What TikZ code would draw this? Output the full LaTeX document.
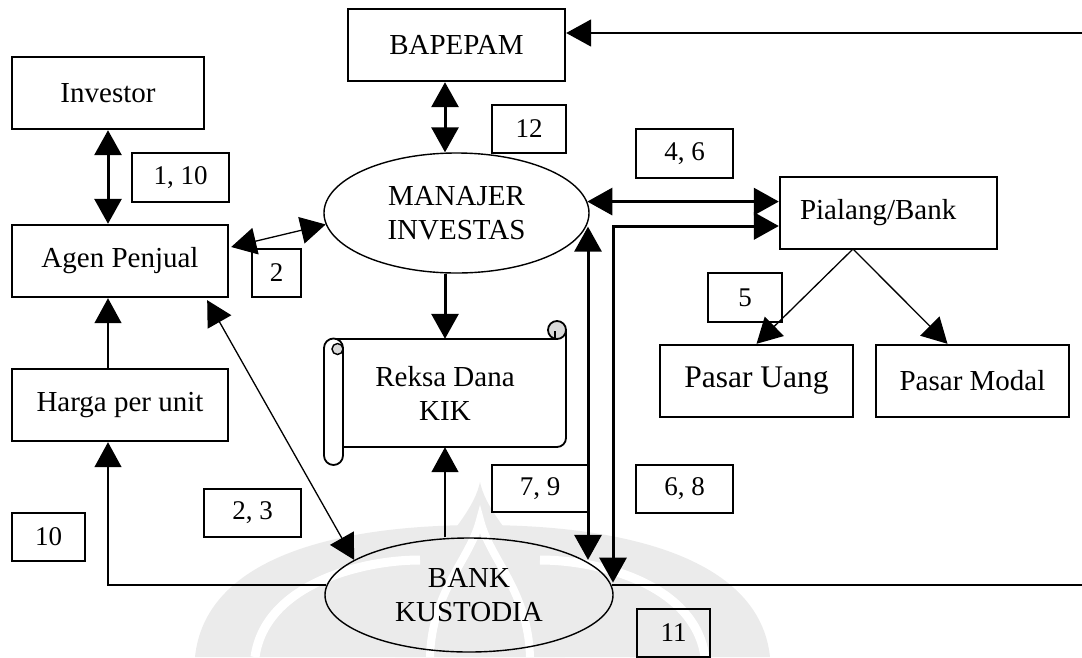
\documentclass[tikz,border=0pt]{standalone}
\usepackage{fontspec}
\setmainfont{Liberation Serif}
\usetikzlibrary{arrows.meta,calc,shapes.geometric}
\begin{document}
\begin{tikzpicture}[x=1pt,y=-1pt,
  box/.style={draw, line width=2.4pt, rectangle, inner sep=0pt, font=\fontsize{29}{34}\selectfont, align=center},
  lbl/.style={draw, line width=2.4pt, rectangle, inner sep=0pt, font=\fontsize{27}{30}\selectfont},
  oval/.style={draw, ellipse, line width=1.4pt, inner sep=0pt, font=\fontsize{29}{34}\selectfont, align=center},
  tip/.style={-{Triangle[length=25pt,width=27pt]}},
  dtip/.style={{Triangle[length=25pt,width=27pt]}-{Triangle[length=25pt,width=27pt]}},
  thk/.style={line width=3pt},
  thn/.style={line width=1.3pt},
  mid/.style={line width=1.8pt},
  scr/.style={line width=1.8pt},
  wm/.style={fill=gray!16}
]
\useasboundingbox (0,0) rectangle (1082,657);
% watermark
\fill[wm] (195,657) .. controls (205,560) and (330,525) .. (480,525) .. controls (630,525) and (760,560) .. (770,657) -- cycle;
\draw[white, line width=9pt] (255,657) .. controls (265,585) and (360,560) .. (420,560);
\draw[white, line width=9pt] (705,657) .. controls (695,585) and (600,560) .. (540,560);
\fill[wm] (395,657) .. controls (400,570) and (470,530) .. (480,482) .. controls (490,530) and (560,570) .. (565,657) -- cycle;
\draw[white, line width=8pt] (430,657) .. controls (432,590) and (470,560) .. (480,520) .. controls (490,560) and (528,590) .. (530,657);

% main nodes
\node[box, minimum width=217pt, minimum height=72pt] (bap) at (456.5,45) {BAPEPAM};
\node[box, minimum width=192pt, minimum height=72pt] (inv) at (108,93) {Investor};
\node[box, minimum width=216pt, minimum height=72pt] (agen) at (120,261) {Agen Penjual};
\node[box, minimum width=216pt, minimum height=72pt] (harga) at (120,405) {Harga per unit};
\node[oval, fill=white, minimum width=265pt, minimum height=120pt] (man) at (456.5,213) {MANAJER\\INVESTAS};
\node[box, minimum width=217pt, minimum height=72pt, text width=177pt, inner xsep=20pt, align=left] (pia) at (888.5,213) {Pialang/Bank};
\node[box, minimum width=193pt, minimum height=72pt, font=\fontsize{31.5}{34}\selectfont] (pu) at (756.5,381) {Pasar Uang};
\node[box, minimum width=193pt, minimum height=72pt] (pm) at (972.5,381) {Pasar Modal};
\node[oval, minimum width=288pt, minimum height=114pt] (kus) at (469,595) {BANK\\KUSTODIA};

% scroll (Reksa Dana KIK)
\draw[scr] (333.5,339) -- (557,339);
\draw[scr] (566,330) -- (566,438) arc[start angle=0, end angle=90, radius=9] -- (343,447);
\filldraw[scr, fill=gray!30] (557,330) circle[radius=9];
\draw[line width=1.4pt] (555,331) -- (555,339);
\filldraw[scr, fill=white] (343,348) -- (343,455.5) arc[start angle=0, end angle=180, radius=9.5] -- (324,348) arc[start angle=180, end angle=360, radius=9.5];
\filldraw[line width=1.4pt, fill=gray!30] (337.5,349) circle[radius=5.5];
\node[inner sep=0pt, minimum width=242pt, minimum height=108pt, font=\fontsize{29}{34}\selectfont, align=center] (reksa) at (445,393) {Reksa Dana\\KIK};

% number labels
\node[lbl, minimum width=97pt, minimum height=49pt] (l110) at (180.5,177.5) {1, 10};
\node[lbl, minimum width=49pt, minimum height=48pt] (l2) at (276.5,273) {2};
\node[lbl, minimum width=74pt, minimum height=48pt] (l12) at (529,129) {12};
\node[lbl, minimum width=97pt, minimum height=49pt] (l46) at (684.5,153.5) {4, 6};
\node[lbl, minimum width=74pt, minimum height=49pt] (l5) at (745,297.5) {5};
\node[lbl, minimum width=96pt, minimum height=47pt] (l79) at (540,488.5) {7, 9};
\node[lbl, minimum width=97pt, minimum height=48pt] (l68) at (684.5,489) {6, 8};
\node[lbl, minimum width=97pt, minimum height=48pt] (l23) at (252.5,513) {2, 3};
\node[lbl, minimum width=73pt, minimum height=48pt] (l10) at (48.5,537) {10};
\node[lbl, minimum width=73pt, minimum height=48pt] (l11) at (673.5,633) {11};

% helper coordinates
\coordinate (c108) at (108,0);
\coordinate (c445) at (445,0);
\coordinate (c588) at (588,0);
\coordinate (c613) at (613,226);
\coordinate (pb) at (853,249);
\coordinate (farR) at (1100,0);
\coordinate (farT) at (1100,33);

% connectors
\draw[thk, dtip] (inv.south) -- (inv.south |- agen.north);
\draw[thn, tip] (c108 |- harga.north) -- (c108 |- agen.south);
\draw[thn, tip] (kus.176) -- (c108 |- kus.176) -- (c108 |- harga.south);
\draw[thn, dtip] ($(agen.east)+(2,-14)$) -- (man.185);
\draw[thn, dtip] ($(agen.south east)+(-22,2)$) -- (kus.163);
\draw[thk, dtip] (c445 |- bap.south) -- (c445 |- man.north);
\draw[thk, tip] (c445 |- man.south) -- (c445 |- reksa.north);
\draw[thn, tip] (c445 |- kus.north) -- (c445 |- reksa.south);
\draw[thk, dtip] (man.5) -- (pia.west |- man.5);
\draw[thk, dtip] (pia.west |- c613) -- (c613) -- (c613 |- kus.5);
\draw[thk, dtip] (c588 |- man.-6) -- (c588 |- kus.17);
\draw[thn, tip] (pb) -- (pu.north);
\draw[thn, tip] (pb) -- ($(pm.north)+(-25,0)$);
\draw[mid, tip] (kus.4) -- (farR |- kus.4) -- (farT) -- ($(bap.east)+(0,-12)$);
\end{tikzpicture}
\end{document}
